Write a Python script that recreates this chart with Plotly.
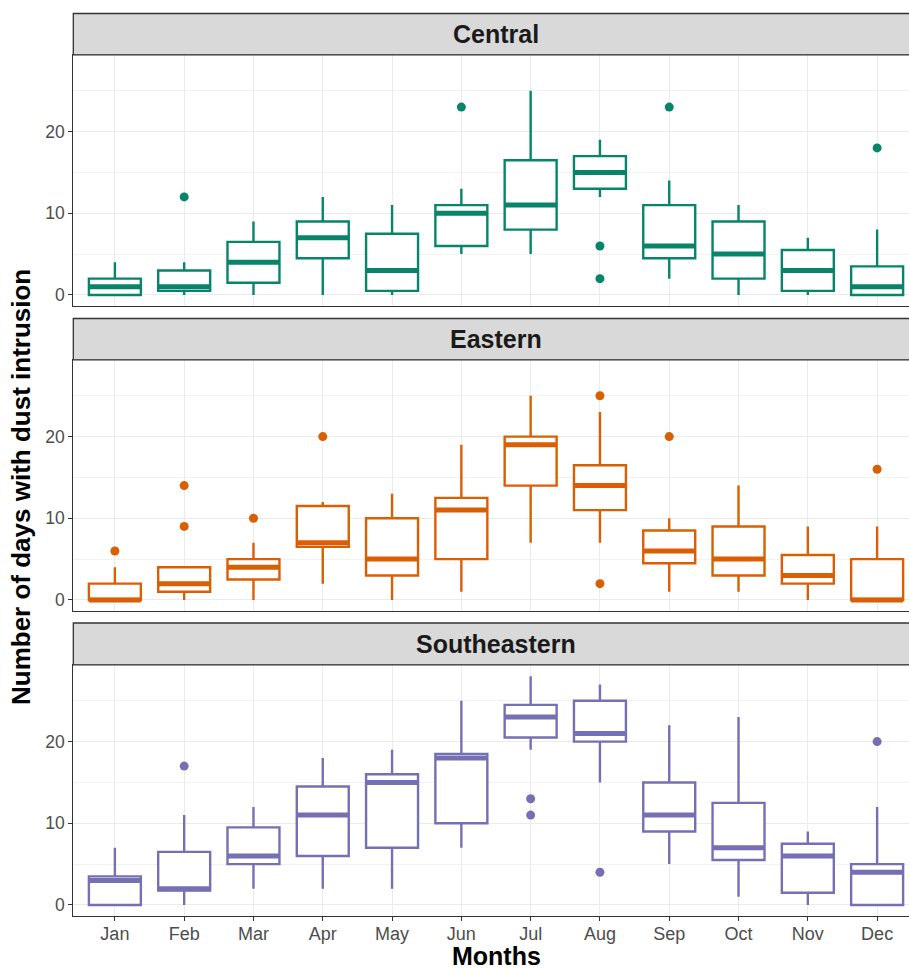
import plotly.graph_objects as go

months = ["Jan", "Feb", "Mar", "Apr", "May", "Jun", "Jul", "Aug", "Sep", "Oct", "Nov", "Dec"]
regions = ["Central", "Eastern", "Southeastern"]
colors = ["#06856B", "#D95F02", "#7570B3"]

central_q1 = [0, 0.5, 1.5, 4.5, 0.5, 6, 8, 13, 4.5, 2, 0.5, 0]
central_med = [1, 1, 4, 7, 3, 10, 11, 15, 6, 5, 3, 1]
central_q3 = [2, 3, 6.5, 9, 7.5, 11, 16.5, 17, 11, 9, 5.5, 3.5]
central_lo = [0, 0, 0, 0, 0, 5, 5, 12, 2, 0, 0, 0]
central_hi = [4, 4, 9, 12, 11, 13, 25, 19, 14, 11, 7, 8]
central_out_m = ["Feb", "Jun", "Aug", "Aug", "Sep", "Dec"]
central_out_v = [12, 23, 6, 2, 23, 18]

eastern_q1 = [0, 1, 2.5, 6.5, 3, 5, 14, 11, 4.5, 3, 2, 0]
eastern_med = [0, 2, 4, 7, 5, 11, 19, 14, 6, 5, 3, 0]
eastern_q3 = [2, 4, 5, 11.5, 10, 12.5, 20, 16.5, 8.5, 9, 5.5, 5]
eastern_lo = [0, 0, 0, 2, 0, 1, 7, 7, 1, 1, 0, 0]
eastern_hi = [4, 4, 7, 12, 13, 19, 25, 23, 10, 14, 9, 9]
eastern_out_m = ["Jan", "Feb", "Feb", "Mar", "Apr", "Aug", "Aug", "Sep", "Dec"]
eastern_out_v = [6, 14, 9, 10, 20, 25, 2, 20, 16]

southeastern_q1 = [0, 1.75, 5, 6, 7, 10, 20.5, 20, 9, 5.5, 1.5, 0]
southeastern_med = [3, 2, 6, 11, 15, 18, 23, 21, 11, 7, 6, 4]
southeastern_q3 = [3.5, 6.5, 9.5, 14.5, 16, 18.5, 24.5, 25, 15, 12.5, 7.5, 5]
southeastern_lo = [0, 0, 2, 2, 2, 7, 19, 15, 5, 1, 0, 0]
southeastern_hi = [7, 11, 12, 18, 19, 25, 28, 27, 22, 23, 9, 12]
southeastern_out_m = ["Feb", "Jul", "Jul", "Aug", "Dec"]
southeastern_out_v = [17, 13, 11, 4, 20]

data = [
    (central_q1, central_med, central_q3, central_lo, central_hi, central_out_m, central_out_v),
    (eastern_q1, eastern_med, eastern_q3, eastern_lo, eastern_hi, eastern_out_m, eastern_out_v),
    (southeastern_q1, southeastern_med, southeastern_q3, southeastern_lo, southeastern_hi,
     southeastern_out_m, southeastern_out_v),
]

W, H = 909, 969
FONT = "Liberation Sans, Arial, sans-serif"
pos = list(range(1, len(months) + 1))
BOXW = 0.75

# panel pixel extents (top, bottom) and strip extents
panels = [(54.8, 306.4), (359.8, 611.4), (664.8, 916.4)]
strips = [(13.5, 54.8), (318.5, 359.8), (623.0, 664.8)]
x_left = 73.3

fig = go.Figure()
for k, (q1, med, q3, lo, hi, om, ov) in enumerate(data):
    xa = "x" if k == 0 else f"x{k+1}"
    ya = "y" if k == 0 else f"y{k+1}"
    c = colors[k]
    fig.add_trace(go.Box(
        x=pos, q1=q1, median=med, q3=q3, lowerfence=lo, upperfence=hi,
        boxpoints=False, width=BOXW, whiskerwidth=0,
        fillcolor="white", line=dict(color=c, width=2.4),
        xaxis=xa, yaxis=ya, showlegend=False, hoverinfo="skip"))
    mx, my = [], []
    for p, m in zip(pos, med):
        mx += [p - BOXW / 2, p + BOXW / 2, None]
        my += [m, m, None]
    fig.add_trace(go.Scatter(x=mx, y=my, mode="lines", line=dict(color=c, width=5),
                             xaxis=xa, yaxis=ya, showlegend=False, hoverinfo="skip"))
    fig.add_trace(go.Scatter(x=[months.index(m) + 1 for m in om], y=ov, mode="markers",
                             marker=dict(color=c, size=9), xaxis=xa, yaxis=ya,
                             showlegend=False, hoverinfo="skip"))

layout = dict(
    width=W, height=H, margin=dict(l=0, r=0, t=0, b=0),
    plot_bgcolor="white", paper_bgcolor="white",
    font=dict(family=FONT, color="#4D4D4D"),
)
shapes, annotations = [], []
for k, ((t, b), (st, sb)) in enumerate(zip(panels, strips)):
    suf = "" if k == 0 else str(k + 1)
    layout["xaxis" + suf] = dict(
        domain=[x_left / W, 1], range=[0.4, 12.46], anchor="y" + suf,
        tickmode="array", tickvals=pos, ticktext=months,
        showticklabels=(k == 2), ticks="outside" if k == 2 else "",
        ticklen=4, tickcolor="#333333", tickwidth=1, ticklabelstandoff=-3,
        tickfont=dict(size=18, color="#4D4D4D", family=FONT),
        showgrid=True, gridcolor="#EBEBEB", gridwidth=1.3, zeroline=False,
        showline=True, linecolor="#333333", linewidth=1, mirror=True)
    layout["yaxis" + suf] = dict(
        domain=[1 - b / H, 1 - t / H], range=[-1.4, 29.4], anchor="x" + suf,
        tickmode="array", tickvals=[0, 10, 20], ticks="outside", ticklen=4,
        tickcolor="#333333", tickwidth=1,
        tickfont=dict(size=17.5, color="#4D4D4D", family=FONT),
        showgrid=True, gridcolor="#EBEBEB", gridwidth=1.3, zeroline=False,
        minor=dict(tickvals=[5, 15, 25], showgrid=True, gridcolor="#F2F2F2",
                   gridwidth=0.9, ticks=""),
        showline=True, linecolor="#333333", linewidth=1, mirror=True)
    shapes.append(dict(type="rect", xref="paper", yref="paper",
                       x0=x_left / W, x1=1.002, y0=1 - sb / H, y1=1 - st / H,
                       fillcolor="#D9D9D9", line=dict(color="#333333", width=1.3),
                       layer="above"))
    annotations.append(dict(text=f"<b>{regions[k]}</b>", xref="paper", yref="paper",
                            x=496 / W, y=1 - (st + sb) / 2 / H, showarrow=False,
                            xanchor="center", yanchor="middle",
                            font=dict(size=25, color="#1A1A1A", family=FONT)))

annotations.append(dict(text="<b>Number of days with dust intrusion</b>", xref="paper",
                        yref="paper", x=21 / W, y=1 - 487 / H, textangle=-90,
                        showarrow=False, xanchor="center", yanchor="middle",
                        font=dict(size=26, color="black", family=FONT)))
annotations.append(dict(text="<b>Months</b>", xref="paper", yref="paper",
                        x=496 / W, y=0, showarrow=False, yshift=-3,
                        xanchor="center", yanchor="bottom",
                        font=dict(size=25, color="black", family=FONT)))
layout["shapes"] = shapes
layout["annotations"] = annotations
fig.update_layout(**layout)
fig.write_html("out.html")
